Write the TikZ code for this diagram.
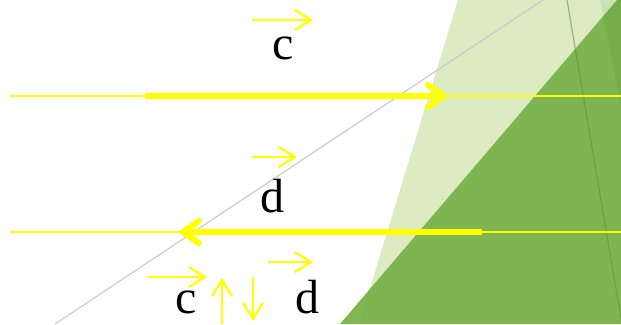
\documentclass[tikz,border=0pt]{standalone}
\usepackage{fontspec}
\setmainfont{Liberation Serif}
\usetikzlibrary{arrows.meta}
\definecolor{lightg}{HTML}{DDEBC3}
\definecolor{darkg}{HTML}{7AB34A}
\definecolor{edgeg}{HTML}{5E8E3C}
\definecolor{grayl}{HTML}{CCCCCC}
\definecolor{yel}{HTML}{FFFF00}
\tikzset{
  ythin/.style={draw=yel, line width=2.6pt},
  ythick/.style={draw=yel, line width=6pt},
  vecarrow/.style={draw=yel, line width=2.3pt, -{Straight Barb[length=16pt,width=20pt]}},
  bigtip/.style={-{Straight Barb[round,length=16pt,width=22pt]}},
  lbl/.style={inner sep=0pt, anchor=base, font=\fontsize{48}{48}\selectfont}
}
\begin{document}
\begin{tikzpicture}[x=1pt,y=-1pt]
\useasboundingbox (0,0) rectangle (621,324);
% background shapes
\fill[lightg] (458,0) -- (621,0) -- (621,324) -- (359,324) -- cycle;
\fill[darkg, opacity=0.95] (617,0) -- (621,0) -- (621,324) -- (340,324) -- cycle;
\fill[green!40!black, opacity=0.08] (600,0) -- (621,0) -- (621,107) -- cycle;
\draw[edgeg, opacity=0.55, line width=1.2pt] (567,0) -- (622,324);
\draw[grayl, line width=1.2pt] (55,324) -- (543,0);
% coordinates
\coordinate (l1a) at (10,96);
\coordinate (l1b) at (621,96);
\coordinate (t1a) at (145,96);
\coordinate (t1b) at (447,96);
\coordinate (l2a) at (10,232);
\coordinate (l2b) at (621,232);
\coordinate (t2a) at (482,232);
\coordinate (t2b) at (180,232);
% long lines
\draw[ythin] (l1a) -- (l1b);
\draw[ythick, bigtip] (t1a) -- (t1b);
\draw[ythin] (l2a) -- (l2b);
\draw[ythick, bigtip] (t2a) -- (t2b);
% labels
\node[lbl] (c1) at (283,59) {c};
\node[lbl] (d1) at (272,212) {d};
\node[lbl] (c2) at (186,313) {c};
\node[lbl] (d2) at (307,313) {d};
% vector arrows
\coordinate (v1a) at (252,20);
\coordinate (v1b) at (313,20);
\coordinate (v2a) at (252,157);
\coordinate (v2b) at (297,157);
\coordinate (v3a) at (147,277);
\coordinate (v3b) at (207,277);
\coordinate (v4a) at (268,262);
\coordinate (v4b) at (313,262);
\coordinate (upa) at (222,324);
\coordinate (upb) at (222,278);
\coordinate (dna) at (253,277);
\coordinate (dnb) at (253,321);
\draw[vecarrow] (v1a) -- (v1b);
\draw[vecarrow] (v2a) -- (v2b);
\draw[vecarrow] (v3a) -- (v3b);
\draw[vecarrow] (v4a) -- (v4b);
\draw[vecarrow] (upa) -- (upb);
\draw[vecarrow] (dna) -- (dnb);
\end{tikzpicture}
\end{document}
